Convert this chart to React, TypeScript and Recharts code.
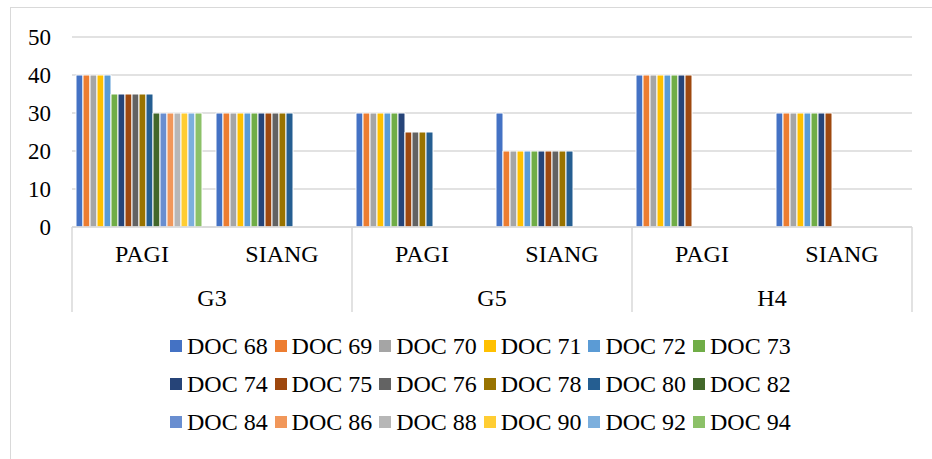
import React from "react";
import { BarChart, Bar, XAxis, YAxis, CartesianGrid, Legend } from "recharts";

const shifts = ["PAGI", "SIANG", "PAGI", "SIANG", "PAGI", "SIANG"];
const groups = ["G3", "G3", "G5", "G5", "H4", "H4"];

const seriesNames = [
  "DOC 68", "DOC 69", "DOC 70", "DOC 71", "DOC 72", "DOC 73",
  "DOC 74", "DOC 75", "DOC 76", "DOC 78", "DOC 80", "DOC 82",
  "DOC 84", "DOC 86", "DOC 88", "DOC 90", "DOC 92", "DOC 94",
];

const seriesColors = [
  "#4472C4", "#ED7D31", "#A5A5A5", "#FFC000", "#5B9BD5", "#70AD47",
  "#264478", "#9E480E", "#636363", "#997300", "#255E91", "#43682B",
  "#698ED0", "#F1975A", "#B7B7B7", "#FFCD33", "#7CAFDD", "#8CC168",
];

// one row per series, one value per category (null = no bar)
const doc68 = [40, 30, 30, 30, 40, 30];
const doc69 = [40, 30, 30, 20, 40, 30];
const doc70 = [40, 30, 30, 20, 40, 30];
const doc71 = [40, 30, 30, 20, 40, 30];
const doc72 = [40, 30, 30, 20, 40, 30];
const doc73 = [35, 30, 30, 20, 40, 30];
const doc74 = [35, 30, 30, 20, 40, 30];
const doc75 = [35, 30, 25, 20, 40, 30];
const doc76 = [35, 30, 25, 20, null, null];
const doc78 = [35, 30, 25, 20, null, null];
const doc80 = [35, 30, 25, 20, null, null];
const doc82 = [30, null, null, null, null, null];
const doc84 = [30, null, null, null, null, null];
const doc86 = [30, null, null, null, null, null];
const doc88 = [30, null, null, null, null, null];
const doc90 = [30, null, null, null, null, null];
const doc92 = [30, null, null, null, null, null];
const doc94 = [30, null, null, null, null, null];

const seriesValues = [
  doc68, doc69, doc70, doc71, doc72, doc73,
  doc74, doc75, doc76, doc78, doc80, doc82,
  doc84, doc86, doc88, doc90, doc92, doc94,
];

const yTicks = [0, 10, 20, 30, 40, 50];

const data = shifts.map((shift, i) => {
  const row: Record<string, string | number | null> = { key: `${groups[i]}-${shift}`, shift, group: groups[i] };
  seriesNames.forEach((name, s) => {
    row[name] = seriesValues[s][i];
  });
  return row;
});

const FONT = '"Times New Roman", "Liberation Serif", Times, serif';
const W = 932;
const H = 459;
const MARGIN = { top: 37, right: 20, left: 10, bottom: 12 };
const Y_W = 62;
const HALF_BAND = (W - MARGIN.left - MARGIN.right - Y_W) / data.length / 2;

const ShiftTick = (props: any) => {
  const { x, y, index } = props;
  return (
    <g>
      {index % 2 === 0 && (
        <line x1={x - HALF_BAND} x2={x - HALF_BAND} y1={y} y2={y + 85} stroke="#d9d9d9" strokeWidth={1.5} />
      )}
      {index === data.length - 1 && (
        <line x1={x + HALF_BAND} x2={x + HALF_BAND} y1={y} y2={y + 85} stroke="#d9d9d9" strokeWidth={1.5} />
      )}
      <text x={x} y={y + 35} textAnchor="middle" style={{ fontFamily: FONT }} fontSize={24} fill="#000">
        {shifts[index]}
      </text>
    </g>
  );
};

const LegendGrid = () => (
  <div
    style={{
      height: 130,
      boxSizing: "border-box",
      paddingTop: 10,
      paddingLeft: 170,
      display: "grid",
      gridTemplateColumns: "repeat(6, 104.6px)",
      gridAutoRows: "38px",
      fontFamily: FONT,
      fontSize: 24,
      color: "#000",
    }}
  >
    {seriesNames.map((name, i) => (
      <div key={name} style={{ display: "flex", alignItems: "center", whiteSpace: "nowrap" }}>
        <span style={{ width: 12, height: 12, background: seriesColors[i], marginRight: 5, flex: "none" }} />
        <span>{name}</span>
      </div>
    ))}
  </div>
);

export default function App() {
  return (
    <div style={{ position: "absolute", left: 0, top: 0, width: W, height: H, background: "#fff", fontFamily: FONT }}>
      <div
        style={{
          position: "absolute",
          left: 10,
          top: 7,
          right: 0,
          bottom: 0,
          borderLeft: "1.5px solid #d9d9d9",
          borderTop: "1.5px solid #d9d9d9",
        }}
      />
      <BarChart
        width={W}
        height={H}
        data={data}
        margin={MARGIN}
        barCategoryGap={4}
        barGap={0}
        style={{ position: "absolute", left: 0, top: 0, fontFamily: FONT }}
      >
        <CartesianGrid vertical={false} stroke="#d9d9d9" strokeWidth={1.5} />
        <YAxis
          width={Y_W}
          domain={[0, 50]}
          ticks={yTicks}
          axisLine={false}
          tickLine={false}
          tickMargin={15}
          tick={{ style: { fontFamily: FONT }, fontSize: 23, fill: "#000" }}
        />
        <XAxis
          dataKey="key"
          height={45}
          interval={0}
          tickSize={0}
          tickMargin={0}
          tickLine={false}
          axisLine={{ stroke: "#d9d9d9", strokeWidth: 1.5 }}
          tick={<ShiftTick />}
        />
        <XAxis
          xAxisId="grp"
          dataKey="group"
          allowDuplicatedCategory={false}
          height={45}
          interval={0}
          tickSize={0}
          tickMargin={17}
          tickLine={false}
          axisLine={false}
          tick={{ style: { fontFamily: FONT }, fontSize: 24, fill: "#000" }}
        />
        <Legend
          verticalAlign="bottom"
          content={() => <LegendGrid />}
          wrapperStyle={{ left: 0, width: W }}
        />
        {seriesNames.map((name, i) => (
          <Bar
            key={name}
            dataKey={name}
            fill={seriesColors[i]}
            stroke="#ffffff"
            strokeWidth={1}
            isAnimationActive={false}
          />
        ))}
      </BarChart>
    </div>
  );
}
